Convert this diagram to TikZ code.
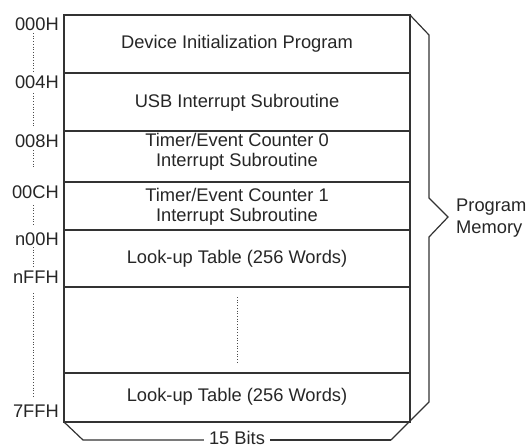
\documentclass[tikz,border=0pt]{standalone}
\usepackage{fontspec}
\setmainfont{Liberation Sans}
\begin{document}
\begin{tikzpicture}[x=1pt,y=-1pt,font=\fontsize{18.3}{19.5}\selectfont]
\tikzset{
  frame/.style={draw=black!80,line width=1.2pt},
  lbl/.style={anchor=east,inner sep=0pt,text=black!85},
  cell/.style={align=center,inner sep=0pt,text=black!85},
  guide/.style={draw=black!70,dotted,line width=0.7pt}
}
\useasboundingbox (0,0) rectangle (526,447);
% memory box
\draw[frame] (64,15) rectangle (410,422);
\foreach \yy in {73,131,182,230,287,373} \draw[frame] (64,\yy) -- (410,\yy);
% cell texts
\node[cell] (dip) at (237,44) {Device Initialization Program};
\node[cell] (usb) at (237,103) {USB Interrupt Subroutine};
\node[cell] (tc0) at (237,152) {Timer/Event Counter 0\\Interrupt Subroutine};
\node[cell] (tc1) at (237,207) {Timer/Event Counter 1\\Interrupt Subroutine};
\node[cell] (lut1) at (237,259) {Look-up Table (256 Words)};
\node[cell] (lut2) at (237,397) {Look-up Table (256 Words)};
\draw[guide] (237,297) -- (237,363);
% address labels
\node[lbl] (a000) at (59,24) {000H};
\node[lbl] (a004) at (59,82) {004H};
\node[lbl] (a008) at (59,141) {008H};
\node[lbl] (a00C) at (59,192) {00CH};
\node[lbl] (an00) at (59,239) {n00H};
\node[lbl] (anFF) at (59,277) {nFFH};
\node[lbl] (a7FF) at (59,411) {7FFH};
\draw[guide] (33,33) -- (33,72);
\draw[guide] (33,93) -- (33,128);
\draw[guide] (33,150) -- (33,168);
\draw[guide] (33,205) -- (33,225);
\draw[guide] (33,247) -- (33,268);
\draw[guide] (33,293) -- (33,398);
% program memory brace
\draw[frame,line join=miter] (410,15) -- (429,35) -- (429,198) -- (448,217) -- (429,237) -- (429,402) -- (391,440);
\node[align=left,anchor=west,inner sep=0pt,text=black!85,font=\fontsize{18.3}{22}\selectfont] (pm) at (456,218) {Program\\Memory};
% width brace
\node[inner sep=0pt,inner xsep=5pt,text=black!85] (bits) at (237,437.5) {15 Bits};
\draw[frame] (391,440) -- (bits.east |- 0,440);
\draw[frame,line join=miter] (bits.west |- 0,440) -- (83,440) -- (64,422);
\end{tikzpicture}
\end{document}
